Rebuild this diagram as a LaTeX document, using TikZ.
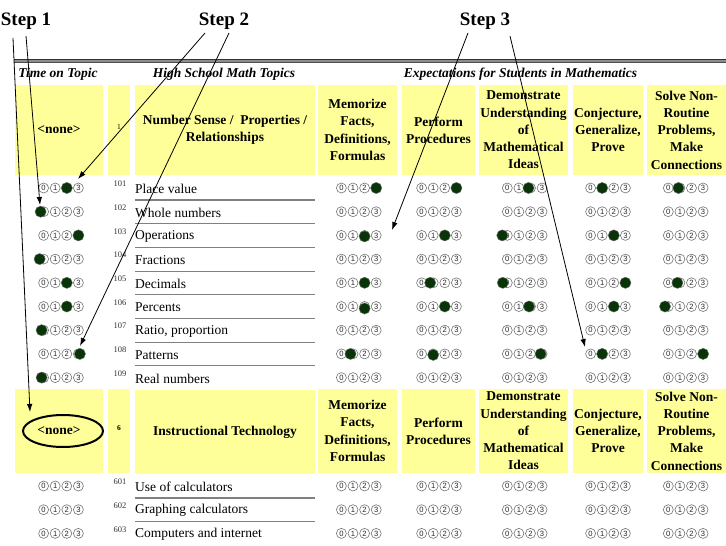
\documentclass[tikz,border=0pt]{standalone}
\usepackage{fontspec}
\setmainfont{Liberation Serif}
\newfontfamily\digfont{Liberation Sans}
\usetikzlibrary{arrows.meta}
\definecolor{hy}{RGB}{255,255,153}
\definecolor{bubgreen}{RGB}{8,52,8}
\definecolor{lgray}{RGB}{128,128,128}
\tikzset{
  hbox/.style={fill=hy, draw=none, inner sep=0pt, align=center,
    font=\bfseries\fontsize{13.5}{17.3}\selectfont},
  coltitle/.style={font=\bfseries\itshape\fontsize{13.5}{16}\selectfont, inner sep=0pt},
  steplbl/.style={font=\bfseries\fontsize{19}{22}\selectfont, inner sep=0pt},
  topic/.style={anchor=west, inner sep=0pt, font=\fontsize{13.5}{16}\selectfont},
  rownum/.style={inner sep=0pt, text=black!80, font=\fontsize{8.5}{9}\selectfont},
  hnum/.style={inner sep=0pt, font=\bfseries\fontsize{7.5}{8}\selectfont},
  bub/.style={circle, draw=black!55, line width=0.6pt, minimum size=10pt, inner sep=0pt,
    text=black!85, font=\digfont\fontsize{7.6}{7.6}\selectfont},
  bubfill/.style={fill=bubgreen, draw=black!55, line width=0.4pt},
  sep/.style={draw=lgray, line width=1.1pt},
  arr/.style={draw=black, line width=0.8pt, -{Latex[length=8pt,width=5.5pt]}},
}
\newcommand\bubrow[3]{%
  \foreach \k in {0,1,2,3}{\node[bub] (#1-\k) at ({#2+(\k-1.5)*11.6},#3) {\k};}}
\begin{document}
\begin{tikzpicture}[x=1pt,y=-1pt]
\useasboundingbox (0,0) rectangle (726,546);
\fill[white] (0,0) rectangle (726,546);

% step labels
\node[steplbl] (st1) at (26,21) {Step 1};
\node[steplbl] (st2) at (224,21) {Step 2};
\node[steplbl] (st3) at (485,21) {Step 3};

% double rule
\fill[black!45] (14,59.5) rectangle (726,62.5);
\draw[black!80, line width=0.9pt] (14,59.5) -- (726,59.5);
\draw[black!70, line width=0.7pt] (14,62.5) -- (726,62.5);

% column titles
\node[coltitle] (ct1) at (58,74) {Time on Topic};
\node[coltitle] (ct2) at (224,74) {High School Math Topics};
\node[coltitle] (ct3) at (520.5,74) {Expectations for Students in Mathematics};

% header row 1
\node[hbox, minimum width=88pt, minimum height=90pt] (h1t) at (59,130) {<none>};
\node[hbox, minimum width=22pt, minimum height=90pt] (h1n) at (119,130) {};
\node[hnum] (h1nl) at (119,127) {\mdseries 1};
\node[hbox, minimum width=180pt, minimum height=90pt] (h1p) at (225,130) {Number Sense /\ \ Properties /\\Relationships};
\node[hbox, minimum width=79pt, minimum height=90pt] (h1m) at (357.5,130) {Memorize\\Facts,\\Definitions,\\Formulas};
\node[hbox, minimum width=73pt, minimum height=90pt] (h1pp) at (438.5,130) {Perform\\Procedures};
\node[hbox, minimum width=89pt, minimum height=90pt] (h1d) at (523.5,130) {Demonstrate\\Understanding\\of\\Mathematical\\Ideas};
\node[hbox, minimum width=70pt, minimum height=90pt] (h1c) at (608,130) {Conjecture,\\Generalize,\\Prove};
\node[hbox, minimum width=79pt, minimum height=90pt] (h1s) at (686.5,130) {Solve Non-\\Routine\\Problems,\\Make\\Connections};

% header row 2
\node[hbox, minimum width=88pt, minimum height=84pt] (h2t) at (59,431) {<none>};
\node[hbox, minimum width=22pt, minimum height=84pt] (h2n) at (119,431) {};
\node[hnum] (h2nl) at (119,428) {6};
\node[hbox, minimum width=180pt, minimum height=84pt] (h2p) at (225,432) {Instructional Technology};
\node[hbox, minimum width=79pt, minimum height=84pt] (h2m) at (357.5,431) {Memorize\\Facts,\\Definitions,\\Formulas};
\node[hbox, minimum width=73pt, minimum height=84pt] (h2pp) at (438.5,431) {Perform\\Procedures};
\node[hbox, minimum width=89pt, minimum height=84pt] (h2d) at (523.5,431) {Demonstrate\\Understanding\\of\\Mathematical\\Ideas};
\node[hbox, minimum width=70pt, minimum height=84pt] (h2c) at (608,431) {Conjecture,\\Generalize,\\Prove};
\node[hbox, minimum width=79pt, minimum height=84pt] (h2s) at (686.5,431) {Solve Non-\\Routine\\Problems,\\Make\\Connections};

% topic rows
\foreach \r/\ry/\lbl in {1/188/Place value, 2/211.7/Whole numbers, 3/235.4/Operations,
  4/259.1/Fractions, 5/282.8/Decimals, 6/306.5/Percents, 7/330.2/{Ratio, proportion},
  8/353.9/Patterns, 9/377.6/Real numbers}{
  \node[rownum] (rn\r) at (120,\ry-4) {10\r};
  \node[topic] (tp\r) at (135,\ry+1) {\lbl};
}
\foreach \r/\ry in {1/188, 2/211.7, 3/235.4, 4/259.1, 5/282.8, 6/306.5, 7/330.2, 8/353.9}{
  \draw[sep] (135,\ry+12) -- (315,\ry+12);
}
\foreach \r/\ry/\lbl in {1/486/Use of calculators, 2/509.7/Graphing calculators, 3/533.4/Computers and internet}{
  \node[rownum] (rm\r) at (120,\ry-4) {60\r};
  \node[topic] (tq\r) at (135,\ry+1) {\lbl};
}
\draw[sep] (135,498) -- (315,498);
\draw[sep] (135,521.7) -- (315,521.7);

% bubbles
\foreach \c/\cx in {T/61, M/358.8, P/439, D/524.7, C/608, S/685.7}{
  \foreach \r/\ry in {1/188, 2/211.7, 3/235.4, 4/259.1, 5/282.8, 6/306.5, 7/330.2, 8/353.9, 9/377.6}{
    \bubrow{b\c\r}{\cx}{\ry}
  }
  \foreach \r/\ry in {1/486, 2/509.7, 3/533.4}{
    \bubrow{q\c\r}{\cx}{\ry}
  }
}

% filled bubbles
\foreach \cx/\ry/\i/\dx/\dy in {
  61/188/2/0/0, 61/211.7/0/-3/0, 61/235.4/3/0/0, 61/259.1/0/-4/0, 61/282.8/2/0/0,
  61/306.5/2/0/0, 61/330.2/0/-2/0, 61/353.9/3/1.5/0, 61/377.6/0/-2/0,
  358.8/188/3/0/0, 358.8/235.4/2/0/1, 358.8/282.8/2/0/0, 358.8/306.5/2/0/2, 358.8/353.9/1/-2.5/0,
  439/188/3/0/0, 439/235.4/2/0/0, 439/282.8/1/-3/0, 439/306.5/2/0/0, 439/353.9/1/0/1,
  524.7/188/2/-2/0, 524.7/235.4/0/-5/0, 524.7/282.8/0/-4.5/0, 524.7/306.5/2/-1.5/0, 524.7/353.9/3/-1.5/0,
  608/188/1/0/0, 608/235.4/2/0/0, 608/282.8/3/0/0, 608/306.5/2/0/0, 608/353.9/1/0/0,
  685.7/188/1/-1.5/0, 685.7/282.8/1/-2.5/0, 685.7/306.5/0/-3.3/0, 685.7/353.9/3/0/0}{
  \fill[bubfill] ({\cx+(\i-1.5)*11.6+\dx},{\ry+\dy}) circle (5.6);
}

% ellipse around <none>
\draw[black, line width=2pt] (h2t.center) ++(4,0) ellipse (40 and 16);

% arrow coordinates
\coordinate (a1s) at (13,38);   \coordinate (a1e) at (30,412);
\coordinate (a2s) at (26,36);   \coordinate (a2e) at (40,205);
\coordinate (a3s) at (205,33);  \coordinate (a3e) at (78,179);
\coordinate (a4s) at (229,33);  \coordinate (a4e) at (80,346);
\coordinate (a5s) at (468,33);  \coordinate (a5e) at (392,230);
\coordinate (a6s) at (510,36);  \coordinate (a6e) at (585,347);
\draw[arr] (a1s) -- (a1e);
\draw[arr] (a2s) -- (a2e);
\draw[arr] (a3s) -- (a3e);
\draw[arr] (a4s) -- (a4e);
\draw[arr] (a5s) -- (a5e);
\draw[arr] (a6s) -- (a6e);
\end{tikzpicture}
\end{document}
